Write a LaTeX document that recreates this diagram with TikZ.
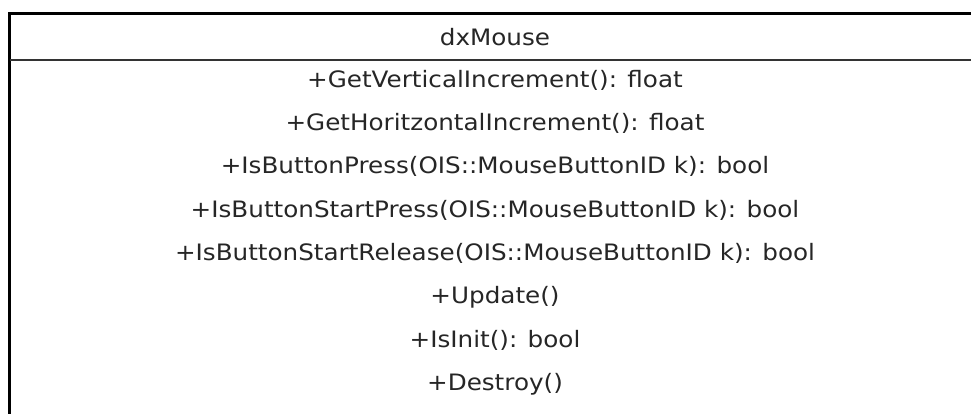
\documentclass[tikz,border=0pt]{standalone}
\usepackage{fontspec}
\setmainfont[FakeStretch=1.09]{DejaVu Sans}
\begin{document}
\begin{tikzpicture}[x=1pt,y=-1pt,
  member/.style={anchor=center, inner sep=0pt, text=black!85, font=\fontsize{22.6}{27}\selectfont},
  classline/.style={draw=black, line width=3pt},
  divline/.style={draw=black!80, line width=1.6pt}]
  \useasboundingbox[fill=white] (0,0) rectangle (971,414);
  \clip (0,0) rectangle (971,414);
  % class frame, extending past the right and bottom edges
  \draw[classline] (9.5,430) -- (9.5,14) -- (990,14);
  \draw[divline] (9.5,60) -- (990,60);
  \node[member] (title) at (495,37) {dxMouse};
  \node[member] (m1) at (495,80) {+GetVerticalIncrement(): float};
  \node[member] (m2) at (495,123.4) {+GetHoritzontalIncrement(): float};
  \node[member] (m3) at (495,166.9) {+IsButtonPress(OIS::MouseButtonID k): bool};
  \node[member] (m4) at (495,210.3) {+IsButtonStartPress(OIS::MouseButtonID k): bool};
  \node[member] (m5) at (495,253.7) {+IsButtonStartRelease(OIS::MouseButtonID k): bool};
  \node[member] (m6) at (495,297.1) {+Update()};
  \node[member] (m7) at (495,340.6) {+IsInit(): bool};
  \node[member] (m8) at (495,384) {+Destroy()};
\end{tikzpicture}
\end{document}
